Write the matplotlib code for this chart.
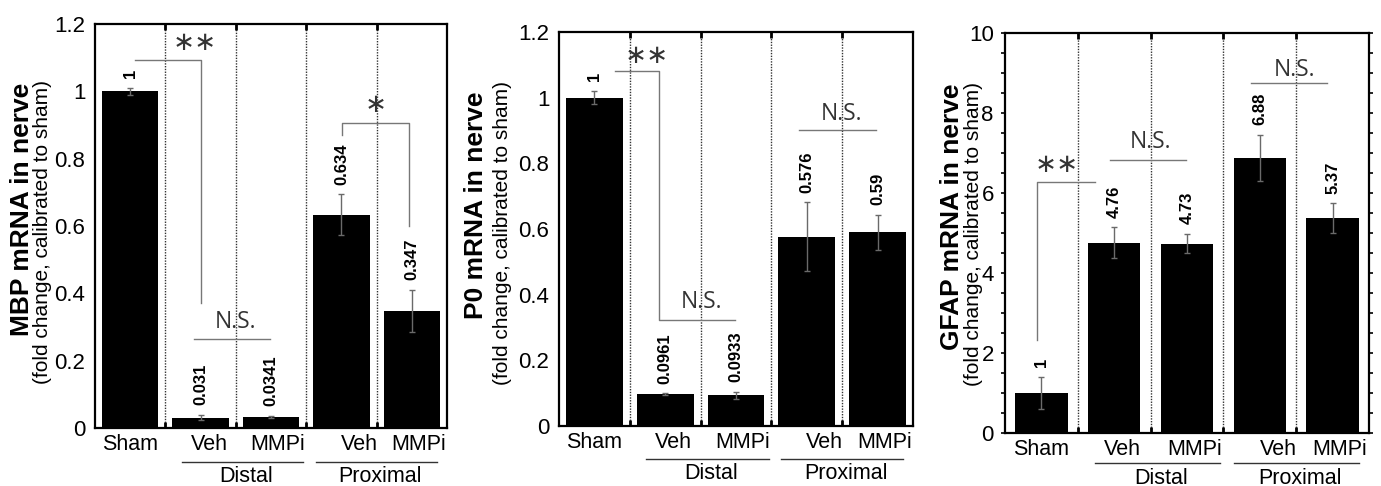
import numpy as np
import matplotlib.pyplot as plt

plt.rcParams['font.family'] = ['Liberation Sans', 'DejaVu Sans']

# data
groups = ['Sham', 'Veh', 'MMPi', 'Veh', 'MMPi']
regions = ['Distal', 'Proximal']

mbp_vals = [1, 0.031, 0.0341, 0.634, 0.347]
mbp_err = [0.01, 0.008, 0.003, 0.06, 0.063]

p0_vals = [1, 0.0961, 0.0933, 0.576, 0.59]
p0_err = [0.02, 0.003, 0.01, 0.105, 0.053]

gfap_vals = [1, 4.76, 4.73, 6.88, 5.37]
gfap_err = [0.4, 0.38, 0.24, 0.58, 0.37]

fig = plt.figure(figsize=(13.81, 4.86), dpi=100)


def panel(rect, vals, errs, ymax, ystep, width, gene, lab_xy, minor=None,
          grp_y=(-0.084, -0.121)):
    ax = fig.add_axes(rect)
    x = np.arange(len(vals)) + 0.5
    ax.bar(x, vals, width, color='black', zorder=2)
    ax.errorbar(x, vals, yerr=errs, fmt='none', ecolor='#6a6a6a',
                elinewidth=1, capsize=2.5, capthick=1, zorder=3)
    for i in range(1, 5):
        ax.axvline(i, color='#333', ls=(0, (1, 1)), lw=1, zorder=1)
    ax.set_xlim(0, 5)
    ax.set_ylim(0, ymax)
    for s in ax.spines.values():
        s.set_linewidth(1.6)
    ax.set_xticks([0.5, 1.62, 2.6, 3.75, 4.6], groups, fontsize=15.5)
    ax.set_xticks([1, 2, 3, 4], minor=True)
    ax.tick_params(axis='x', which='major', length=0, pad=4)
    ax.tick_params(axis='x', which='minor', direction='in', length=4,
                   width=2, top=True, bottom=True)
    yt = np.arange(0, ymax + ystep / 2, ystep)
    ax.set_yticks(yt, ['%g' % round(v, 2) for v in yt], fontsize=16)
    if minor:
        ax.set_yticks(np.arange(0, ymax + 0.01, minor), minor=True)
        ax.tick_params(axis='y', which='both', length=3, width=1.2,
                       left=True, right=True, pad=5)
        ax.tick_params(axis='y', which='minor', length=3)
    else:
        ax.tick_params(axis='y', length=0, pad=7)
    for xi, v, e in zip(x, vals, errs):
        ax.annotate('%g' % v, (xi, v + e), xytext=(0, 7),
                    textcoords='offset points', rotation=90, ha='center',
                    va='bottom', fontsize=12, fontweight='bold')
    tr = ax.get_xaxis_transform()
    for (a, b), name in zip([(1.23, 2.96), (3.14, 4.86)], regions):
        ax.plot([a, b], [grp_y[0]] * 2, color='#333', lw=1, transform=tr,
                clip_on=False)
        ax.text((a + b) / 2 + 0.05, grp_y[1], name, transform=tr,
                ha='center', va='center', fontsize=15.5)
    fig.text(lab_xy[0], lab_xy[1], gene + ' mRNA in nerve', rotation=90,
             ha='center', va='center', fontsize=19, fontweight='bold')
    fig.text(lab_xy[2], lab_xy[3], '(fold change, calibrated to sham)',
             rotation=90, ha='center', va='center', fontsize=15)
    return ax


def ns(ax, tx, ty):
    ax.text(tx, ty, 'N.S.', ha='center', va='center', fontsize=16.5,
            color='#333', family='Open Sans')


def bracket(ax, xs, ys, label, tx, ty):
    ax.plot(xs, ys, color='#777', lw=1, zorder=4)
    if label == 'N.S.':
        ns(ax, tx, ty)
    else:
        ax.text(tx, ty, label, ha='center', va='center', fontsize=19,
                color='#333', family='DejaVu Sans')


ax1 = panel([0.0688, 0.1193, 0.2549, 0.8313], mbp_vals, mbp_err, 1.2, 0.2,
            0.8, 'MBP', (0.016, 0.57, 0.031, 0.523))
bracket(ax1, [0.57, 1.5, 1.5], [1.093, 1.093, 0.371], '∗∗', 1.42, 1.143)
bracket(ax1, [1.41, 2.49], [0.264, 0.264], 'N.S.', 1.99, 0.315)
bracket(ax1, [3.51, 3.51, 4.46, 4.46], [0.87, 0.906, 0.906, 0.6], '∗',
        3.99, 0.96)

ax2 = panel([0.4048, 0.1235, 0.2563, 0.8107], p0_vals, p0_err, 1.2, 0.2,
            0.8, 'P0', (0.345, 0.578, 0.364, 0.521))
bracket(ax2, [0.79, 1.41, 1.41, 2.49], [1.082, 1.082, 0.322, 0.322],
        '∗∗', 1.24, 1.128)
ns(ax2, 2.01, 0.377)
bracket(ax2, [3.39, 4.48], [0.9, 0.9], 'N.S.', 3.99, 0.95)

ax3 = panel([0.7277, 0.1091, 0.2636, 0.823], gfap_vals, gfap_err, 10, 2,
            0.72, 'GFAP', (0.689, 0.553, 0.705, 0.519), minor=0.5,
            grp_y=(-0.075, -0.113))
bracket(ax3, [0.44, 0.44, 1.24], [2.32, 6.28, 6.28], '∗∗', 0.71, 6.7)
bracket(ax3, [1.44, 2.49], [6.83, 6.83], 'N.S.', 2.0, 7.28)
bracket(ax3, [3.38, 4.42], [8.74, 8.74], 'N.S.', 3.98, 9.07)

fig.savefig('out.png', dpi=100)
